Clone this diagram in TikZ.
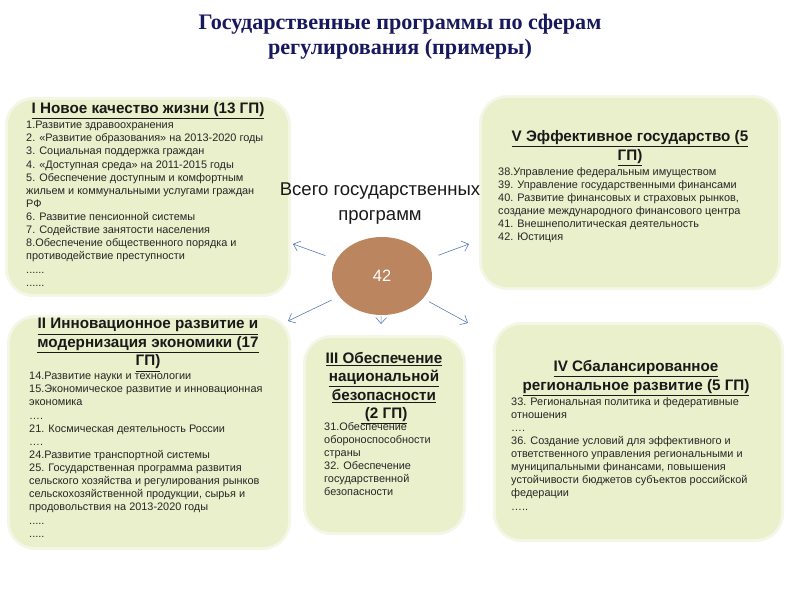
\documentclass[tikz,border=0pt]{standalone}
\usepackage{fontspec}
\setmainfont{Liberation Sans}
\newfontfamily\headfont{Liberation Serif}
\usetikzlibrary{arrows.meta,shapes.geometric}
\definecolor{boxgreen}{RGB}{233,240,203}
\definecolor{boxglow}{RGB}{244,247,230}
\definecolor{ovalbrown}{RGB}{186,133,95}
\definecolor{arrowblue}{RGB}{88,122,178}
\definecolor{headnavy}{RGB}{24,24,92}
\tikzset{
  glow/.style={fill=boxglow,rounded corners=8.5mm},
  box/.style={fill=boxgreen,rounded corners=7.5mm},
  boxtitle/.style={font=\fontsize{13}{15.8}\selectfont\bfseries,align=center,text=black!90,inner sep=0pt},
  items/.style={font=\fontsize{9.3}{11.2}\selectfont,align=left,anchor=north west,inner sep=0pt,text=black!85},
  arr/.style={draw=arrowblue,line width=0.5pt,-{Straight Barb[length=1.8mm,width=3.2mm]}}
}
\begin{document}
\begin{tikzpicture}[x=0.3mm,y=-0.3mm]
\useasboundingbox[fill=white] (0,0) rectangle (800,600);
% heading
\node[font=\headfont\fontsize{18.9}{21.3}\selectfont\bfseries,text=headnavy,align=center] (head) at (400,37)
  {Государственные программы по сферам\\регулирования (примеры)};
% boxes
\foreach \xa/\ya/\xb/\yb in {8/100/288/294,482/98/778/287,10/318/288/547,306/338/463/532,496/325/781/539} {
  \fill[glow] (\xa-3,\ya-3) rectangle (\xb+3,\yb+3);
  \fill[box] (\xa,\ya) rectangle (\xb,\yb);
}
% I
\node[boxtitle] (t1) at (148,111) {\underline{I Новое качество жизни (13 ГП)}};
\node[items] (l1) at (26,121) {1.Развитие здравоохранения\\
2. «Развитие образования» на 2013-2020 годы\\
3. Социальная поддержка граждан\\
4. «Доступная среда» на 2011-2015 годы\\
5. Обеспечение доступным и комфортным\\
жильем и коммунальными услугами граждан\\
РФ\\
6. Развитие пенсионной системы\\
7. Содействие занятости населения\\
8.Обеспечение общественного порядка и\\
противодействие преступности\\
......\\
......};
% V
\node[boxtitle] (t5) at (630,148) {\underline{V Эффективное государство (5}\\\underline{ГП)}};
\node[items] (l5) at (498,167) {38.Управление федеральным имуществом\\
39. Управление государственными финансами\\
40. Развитие финансовых и страховых рынков,\\
создание международного финансового центра\\
41. Внешнеполитическая деятельность\\
42. Юстиция};
% II
\node[boxtitle] (t2) at (148,345) {\underline{II Инновационное развитие и}\\\underline{модернизация экономики (17}\\\underline{ГП)}};
\node[items] (l2) at (29,372) {14.Развитие науки и технологии\\
15.Экономическое развитие и инновационная\\
экономика\\
….\\
21. Космическая деятельность России\\
….\\
24.Развитие транспортной системы\\
25. Государственная программа развития\\
сельского хозяйства и регулирования рынков\\
сельскохозяйственной продукции, сырья и\\
продовольствия на 2013-2020 годы\\
.....\\
.....};
% III
\node[boxtitle] (t3) at (384,388) {\underline{III Обеспечение}\\\underline{национальной}\\\underline{безопасности}\\\underline{ (2 ГП)}};
\node[items] (l3) at (324,422) {31.Обеспечение\\
обороноспособности\\
страны\\
32. Обеспечение\\
государственной\\
безопасности};
% IV
\node[boxtitle] (t4) at (636,378) {\underline{IV Сбалансированное}\\\underline{региональное развитие (5 ГП)}};
\node[items] (l4) at (511,397) {33. Региональная политика и федеративные\\
отношения\\
….\\
36. Создание условий для эффективного и\\
ответственного управления региональными и\\
муниципальными финансами, повышения\\
устойчивости бюджетов субъектов российской\\
федерации\\
…..};
% centre
\node[font=\fontsize{15.8}{21.3}\selectfont,align=center,text=black!90] (total) at (380,204) {Всего государственных\\программ};
\node[ellipse,fill=ovalbrown,minimum width=30mm,minimum height=23.4mm,text=white,font=\fontsize{14}{16}\selectfont] (c) at (382,276) {42};
\coordinate (e1) at (293,244);
\coordinate (e2) at (469,244);
\coordinate (e3) at (288,321);
\coordinate (e4) at (468,323);
\coordinate (e5) at (381,324);
\foreach \e/\g in {e1/3.5mm,e2/3.5mm,e3/2.5mm,e4/2mm,e5/0.3mm} {
  \draw[arr,shorten <=\g] (c) -- (\e);
}
\end{tikzpicture}
\end{document}
